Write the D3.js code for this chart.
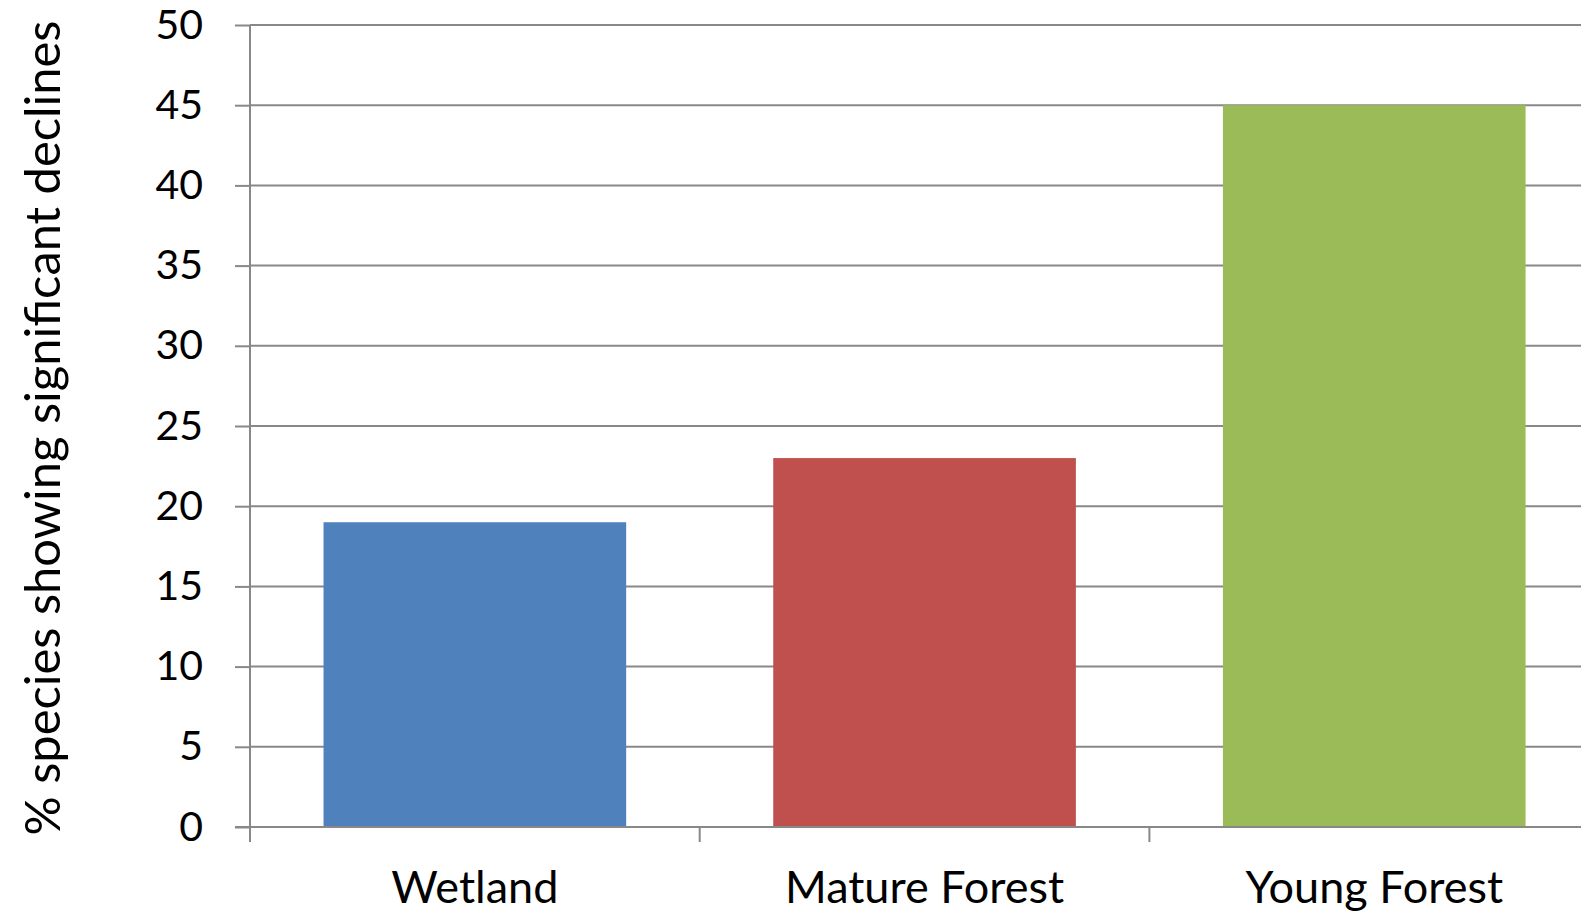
<!DOCTYPE html>
<html>
<head>
<meta charset="utf-8">
<script src="https://cdn.jsdelivr.net/npm/d3@7"></script>
<style>
  html, body { margin: 0; padding: 0; background: #fff; overflow: hidden; }
  svg { display: block; }
  text { font-family: Lato, "Open Sans", sans-serif; fill: #000; }
</style>
</head>
<body>
<svg id="chart" width="1581" height="912"></svg>
<script>
// Habitat groups and the share of species in each with significant declines
const categories = ["Wetland", "Mature Forest", "Young Forest"];
const values = [19, 23, 45];
const colors = ["#4F81BD", "#C0504D", "#9BBB59"];
const yTicks = [0, 5, 10, 15, 20, 25, 30, 35, 40, 45, 50];
const yTitle = "% species showing significant declines";

const svg = d3.select("#chart");
const W = 1581, H = 912;
const plotLeft = 250, plotTop = 25, plotBottom = 827;
const bandStep = 449.7;

const x = d3.scaleBand()
  .domain(categories)
  .range([plotLeft, plotLeft + bandStep * categories.length])
  .paddingInner(0.327)
  .paddingOuter(0.1635);

const y = d3.scaleLinear().domain([0, 50]).range([plotBottom, plotTop]);

const gridColor = "#888888";

// horizontal gridlines
svg.append("g")
  .selectAll("line")
  .data(yTicks.filter(d => d > 0))
  .join("line")
  .attr("x1", plotLeft).attr("x2", W)
  .attr("y1", d => y(d)).attr("y2", d => y(d))
  .attr("stroke", gridColor).attr("stroke-width", 2);

// bars
svg.append("g")
  .selectAll("rect")
  .data(categories)
  .join("rect")
  .attr("x", d => x(d))
  .attr("width", x.bandwidth())
  .attr("y", (d, i) => y(values[i]))
  .attr("height", (d, i) => y(0) - y(values[i]))
  .attr("fill", (d, i) => colors[i]);

// y axis
const yAxis = d3.axisLeft(y).tickValues(yTicks).tickSize(15).tickPadding(32).tickFormat(d3.format("d"));
const gy = svg.append("g").attr("transform", `translate(${plotLeft},0)`).call(yAxis);
gy.select(".domain").remove();
gy.selectAll(".tick line").attr("stroke", gridColor).attr("stroke-width", 2);
gy.selectAll(".tick text").attr("font-size", 41).attr("font-family", "Lato, sans-serif").attr("fill", "#000");

// vertical axis line
svg.append("line")
  .attr("x1", plotLeft).attr("x2", plotLeft)
  .attr("y1", plotTop).attr("y2", plotBottom + 15)
  .attr("stroke", gridColor).attr("stroke-width", 2);

// baseline
svg.append("line")
  .attr("x1", plotLeft - 15).attr("x2", W)
  .attr("y1", plotBottom).attr("y2", plotBottom)
  .attr("stroke", gridColor).attr("stroke-width", 2);

// category boundary ticks
const boundaries = d3.range(categories.length).map(i => x.range()[0] + x.step() * i);
svg.append("g")
  .selectAll("line")
  .data(boundaries)
  .join("line")
  .attr("x1", d => d).attr("x2", d => d)
  .attr("y1", plotBottom).attr("y2", plotBottom + 15)
  .attr("stroke", gridColor).attr("stroke-width", 2);

// category labels
svg.append("g")
  .selectAll("text")
  .data(categories)
  .join("text")
  .attr("x", d => x(d) + x.bandwidth() / 2)
  .attr("y", 903)
  .attr("text-anchor", "middle")
  .attr("font-size", 45)
  .text(d => d);

// y axis title
svg.append("text")
  .attr("transform", `translate(60,${428}) rotate(-90)`)
  .attr("text-anchor", "middle")
  .attr("font-size", 48)
  .attr("textLength", 815)
  .attr("lengthAdjust", "spacingAndGlyphs")
  .text(yTitle);
</script>
</body>
</html>
